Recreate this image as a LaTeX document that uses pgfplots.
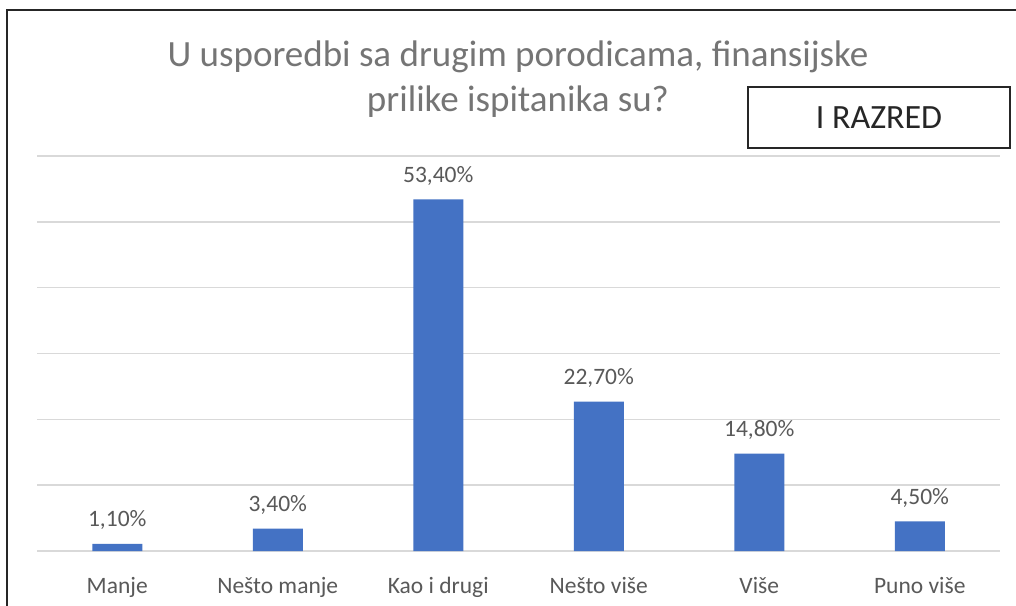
\documentclass[border=0pt]{standalone}
\usepackage{pgfplots}
\pgfplotsset{compat=1.18}
\usepackage{fontspec}
\setmainfont{Carlito}
\definecolor{barblue}{HTML}{4472C4}
\definecolor{gridgray}{HTML}{D9D9D9}
\definecolor{labgray}{HTML}{595959}
\definecolor{titlegray}{HTML}{757575}
\begin{document}
\begin{tikzpicture}[x=1pt,y=1pt]
\useasboundingbox (0,0) rectangle (1016,605);
\fill[white] (0,0) rectangle (1016,605);
\draw[line width=2.2pt, color=black!85] (7,-2) -- (7,595) -- (1018,595);
\begin{axis}[
  at={(37pt,54pt)}, anchor=south west,
  scale only axis, width=963pt, height=395pt,
  xmin=-0.5, xmax=5.5, ymin=0, ymax=60,
  ybar, bar width=50pt,
  axis line style={draw=none},
  tick style={draw=none},
  ytick={0,10,20,30,40,50,60}, yticklabels={},
  ymajorgrids, grid style={gridgray, line width=1.4pt},
  xtick=data,
  xticklabels={Manje, Nešto manje, Kao i drugi, Nešto više, Više, Puno više},
  xticklabel style={anchor=base, yshift=-38pt, font=\fontsize{23.5}{28}\selectfont, text=labgray},
  nodes near coords={\pgfmathprintnumber[fixed, fixed zerofill, precision=2, use comma, assume math mode=true]{\pgfplotspointmeta}\%},
  nodes near coords style={anchor=base, yshift=17pt, font=\fontsize{23.5}{28}\selectfont, text=labgray},
  clip=false,
]
\addplot[fill=barblue, draw=none] coordinates {(0,1.1) (1,3.4) (2,53.4) (3,22.7) (4,14.8) (5,4.5)};
\end{axis}
\node[anchor=base, text=titlegray, font=\fontsize{37}{44}\selectfont] at (518,538) {U usporedbi sa drugim porodicama, finansijske};
\node[anchor=base, text=titlegray, font=\fontsize{37}{44}\selectfont] at (518,493) {prilike ispitanika su?};
\draw[line width=1.6pt, color=black!85, fill=white] (748,518) rectangle (1010,457);
\node[anchor=base, text=black!85, font=\fontsize{34}{40}\selectfont] at (879,476) {I RAZRED};
\end{tikzpicture}
\end{document}
